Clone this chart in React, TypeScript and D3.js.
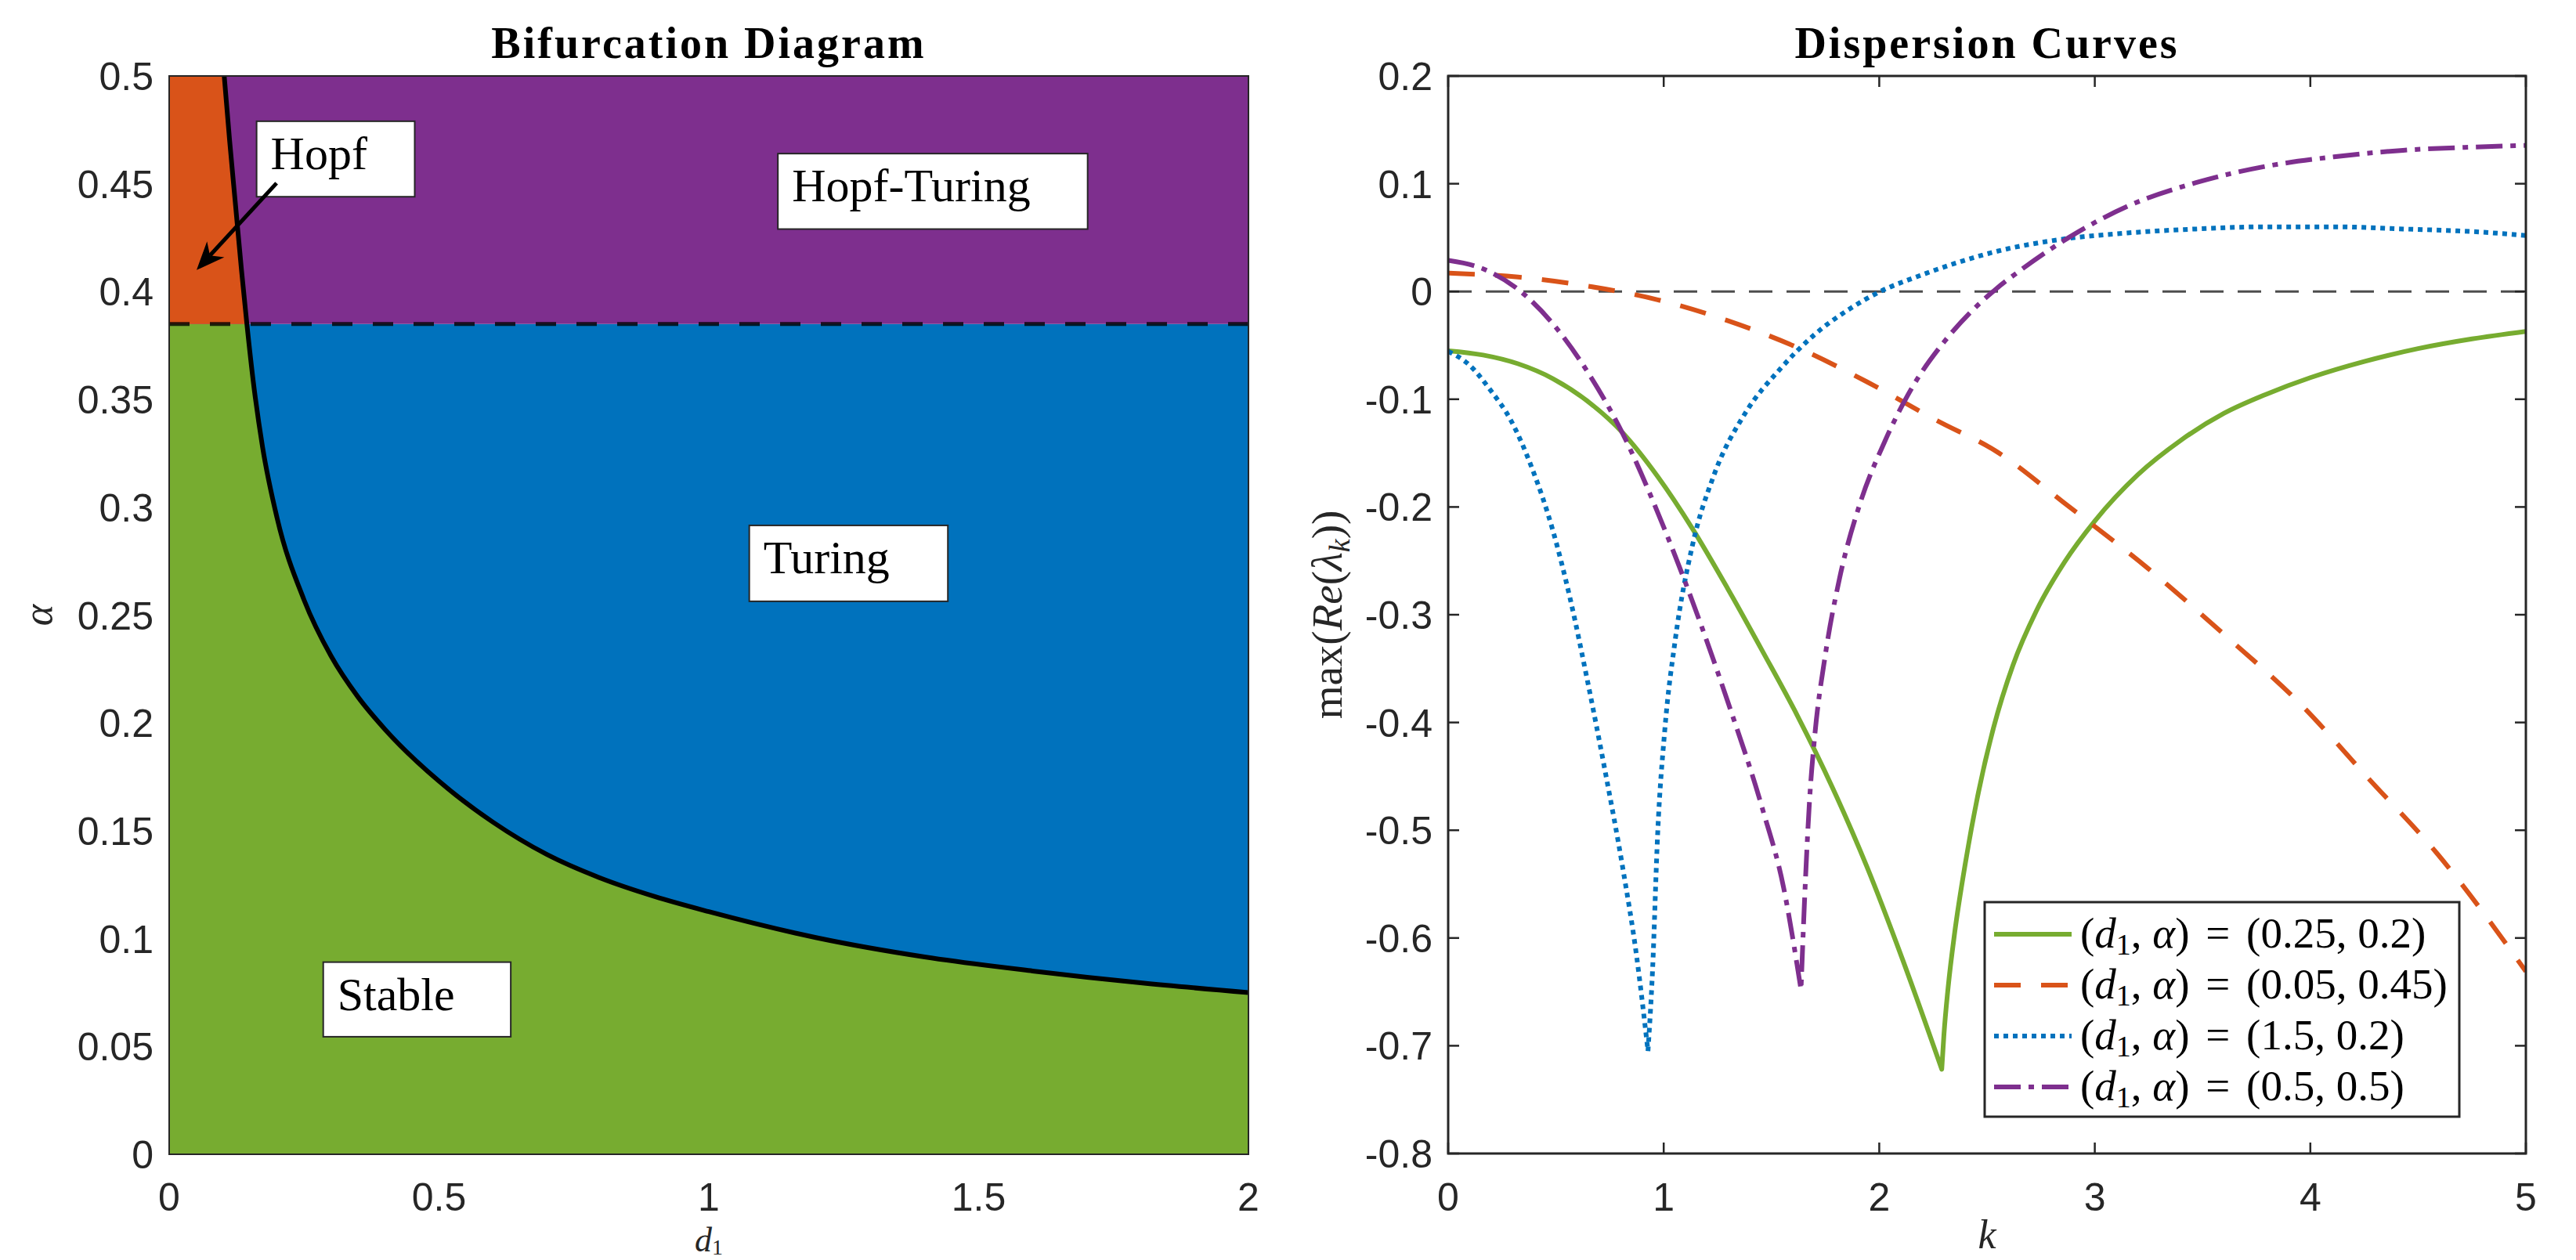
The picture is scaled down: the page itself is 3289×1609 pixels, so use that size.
import React from 'react';
import * as d3 from 'd3';

const WIDTH = 3289;
const HEIGHT = 1609;

// ---------------- Left panel: bifurcation diagram ----------------
const boundaryD1 = [0.102, 0.112, 0.123, 0.134, 0.144, 0.156, 0.173, 0.2, 0.25, 0.3, 0.35, 0.4, 0.5, 0.6, 0.7, 0.8, 0.9, 1.0, 1.2, 1.4, 1.6, 1.8, 2.0];
const boundaryAlpha = [0.5, 0.47, 0.44, 0.41, 0.385, 0.358, 0.328, 0.295, 0.257, 0.231, 0.212, 0.197, 0.173, 0.154, 0.139, 0.128, 0.1195, 0.1125, 0.1004, 0.0915, 0.085, 0.0795, 0.075];
const hopfAlpha = 0.385;
const leftXTicks = [0, 0.5, 1, 1.5, 2];
const leftXTickLabels = ['0', '0.5', '1', '1.5', '2'];
const leftYTicks = [0, 0.05, 0.1, 0.15, 0.2, 0.25, 0.3, 0.35, 0.4, 0.45, 0.5];
const leftYTickLabels = ['0', '0.05', '0.1', '0.15', '0.2', '0.25', '0.3', '0.35', '0.4', '0.45', '0.5'];

// region annotation boxes (data coordinates: left, right, top, bottom)
const regionNames = ['Hopf', 'Hopf-Turing', 'Turing', 'Stable'];
const regionBoxD1From = [0.162, 1.128, 1.075, 0.2855];
const regionBoxD1To = [0.455, 1.702, 1.443, 0.633];
const regionBoxAlphaTop = [0.479, 0.464, 0.2916, 0.0891];
const regionBoxAlphaBottom = [0.444, 0.429, 0.2564, 0.0545];
const arrowFrom = [0.199, 0.4503];
const arrowTo = [0.0508, 0.41];

// ---------------- Right panel: dispersion curves ----------------
const rightXTicks = [0, 1, 2, 3, 4, 5];
const rightYTicks = [0.2, 0.1, 0, -0.1, -0.2, -0.3, -0.4, -0.5, -0.6, -0.7, -0.8];
const rightYTickLabels = ['0.2', '0.1', '0', '-0.1', '-0.2', '-0.3', '-0.4', '-0.5', '-0.6', '-0.7', '-0.8'];

const kGreen = [0, 0.162, 0.324, 0.486, 0.648, 0.81, 0.972, 1.134, 1.296, 1.458, 1.62, 1.782, 1.944, 2.107, 2.29, 2.30, 2.32, 2.35, 2.4, 2.46, 2.53, 2.62, 2.73, 2.86, 3.0, 3.2, 3.4, 3.6, 3.8, 4.0, 4.25, 4.5, 4.75, 5.0];
const vGreen = [-0.055, -0.059, -0.0671, -0.0809, -0.102, -0.1312, -0.1717, -0.2203, -0.2754, -0.3337, -0.3936, -0.46, -0.5345, -0.6193, -0.7218, -0.69, -0.645, -0.595, -0.53, -0.465, -0.405, -0.347, -0.296, -0.251, -0.213, -0.17, -0.138, -0.113, -0.095, -0.08, -0.065, -0.053, -0.044, -0.037];

const kOrange = [0, 0.324, 0.648, 0.972, 1.296, 1.62, 1.944, 2.27, 2.54, 2.879, 3.247, 3.598, 3.95, 4.27, 4.59, 5.0];
const vOrange = [0.017, 0.0134, 0.005, -0.0077, -0.027, -0.052, -0.084, -0.12, -0.148, -0.1995, -0.257, -0.318, -0.382, -0.452, -0.522, -0.631];

const kBlue = [0, 0.097, 0.194, 0.292, 0.389, 0.486, 0.567, 0.648, 0.729, 0.81, 0.875, 0.927, 0.948, 0.972, 1.005, 1.053, 1.134, 1.232, 1.378, 1.54, 1.7, 1.864, 2.005, 2.188, 2.35, 2.54, 2.831, 3.151, 3.47, 3.79, 4.11, 4.43, 4.75, 5.0];
const vBlue = [-0.0556, -0.068, -0.091, -0.12, -0.164, -0.222, -0.286, -0.363, -0.446, -0.535, -0.618, -0.705, -0.631, -0.503, -0.407, -0.324, -0.235, -0.171, -0.113, -0.072, -0.04, -0.016, 0.0, 0.0147, 0.026, 0.037, 0.048, 0.0543, 0.058, 0.06, 0.06, 0.058, 0.0556, 0.052];

const kPurple = [0, 0.162, 0.324, 0.486, 0.648, 0.81, 0.972, 1.134, 1.296, 1.458, 1.556, 1.637, 1.653, 1.677, 1.7, 1.75, 1.815, 1.912, 2.026, 2.156, 2.3, 2.43, 2.54, 2.671, 2.879, 3.151, 3.47, 3.79, 4.11, 4.43, 4.75, 5.0];
const vPurple = [0.0288, 0.021, 0.002, -0.03, -0.075, -0.132, -0.205, -0.288, -0.38, -0.48, -0.553, -0.648, -0.567, -0.471, -0.414, -0.337, -0.267, -0.196, -0.139, -0.088, -0.047, -0.018, 0.002, 0.022, 0.05, 0.079, 0.101, 0.116, 0.125, 0.131, 0.134, 0.1355];

const legendD1 = ['0.25', '0.05', '1.5', '0.5'];
const legendAlpha = ['0.2', '0.45', '0.2', '0.5'];

const C_BLUE = '#0072BD';
const C_ORANGE = '#D95319';
const C_PURPLE = '#7E2F8E';
const C_GREEN = '#77AC30';
const C_AXIS = '#262626';

const SANS = '"Liberation Sans", Arial, Helvetica, sans-serif';
const SERIF = '"Liberation Serif", "Times New Roman", serif';

type Pt = [number, number];

function splitAtCusp(pts: Pt[]): [Pt[], Pt[]] {
  let mi = 0;
  pts.forEach((p, i) => { if (p[1] < pts[mi][1]) mi = i; });
  if (mi === 0 || mi === pts.length - 1) return [pts, []];
  return [pts.slice(0, mi + 1), pts.slice(mi)];
}

export default function App() {
  const L = { x0: 216, x1: 1594, y0: 97, y1: 1474 };
  const R = { x0: 1849, x1: 3225, y0: 97, y1: 1473 };

  const xL = d3.scaleLinear().domain([0, 2]).range([L.x0, L.x1]);
  const yL = d3.scaleLinear().domain([0, 0.5]).range([L.y1, L.y0]);
  const xR = d3.scaleLinear().domain([0, 5]).range([R.x0, R.x1]);
  const yR = d3.scaleLinear().domain([-0.8, 0.2]).range([R.y1, R.y0]);

  // boundary curve
  const boundaryPts: Pt[] = boundaryD1.map((d, i) => [d, boundaryAlpha[i]]);
  const bLine = d3.line<Pt>().x(d => xL(d[0])).y(d => yL(d[1])).curve(d3.curveMonotoneX);
  const boundaryPath = bLine(boundaryPts) as string;
  const leftRegion = boundaryPath + `L${xL(2)},${yL(0)}L${xL(0)},${yL(0)}L${xL(0)},${yL(0.5)}Z`;

  // dispersion curves
  const rLine = d3.line<Pt>().x(d => xR(d[0])).y(d => yR(d[1])).curve(d3.curveMonotoneX);
  const curvePath = (ks: number[], vs: number[]) => {
    const pts: Pt[] = ks.map((k, i) => [k, vs[i]]);
    const [a, b] = splitAtCusp(pts);
    let p = rLine(a) as string;
    if (b.length) p += (rLine(b) as string).replace(/^M/, 'L');
    return p;
  };
  const series = [
    { d: curvePath(kGreen, vGreen), color: C_GREEN, dash: undefined as string | undefined, w: 6 },
    { d: curvePath(kOrange, vOrange), color: C_ORANGE, dash: '34,26', w: 6 },
    { d: curvePath(kBlue, vBlue), color: C_BLUE, dash: '6,6', w: 6 },
    { d: curvePath(kPurple, vPurple), color: C_PURPLE, dash: '34,10,7,10', w: 6 },
  ];

  // arrow
  const ax0 = xL(arrowFrom[0]), ay0 = yL(arrowFrom[1]);
  const ax1 = xL(arrowTo[0]), ay1 = yL(arrowTo[1]);
  const ang = Math.atan2(ay1 - ay0, ax1 - ax0);
  const headLen = 36, headHalf = 15;
  const bx = ax1 - headLen * Math.cos(ang), by = ay1 - headLen * Math.sin(ang);
  const nx = -Math.sin(ang), ny = Math.cos(ang);
  const notchX = ax1 - headLen * 0.7 * Math.cos(ang), notchY = ay1 - headLen * 0.7 * Math.sin(ang);
  const headPts = `${ax1},${ay1} ${bx + nx * headHalf},${by + ny * headHalf} ${notchX},${notchY} ${bx - nx * headHalf},${by - ny * headHalf}`;

  const legendX0 = 2534, legendX1 = 3140, legendY0 = 1152, legendY1 = 1426;
  const legendRowY = (i: number) => 1193 + i * 65;

  return (
    <svg width={WIDTH} height={HEIGHT} viewBox={`0 0 ${WIDTH} ${HEIGHT}`}
      style={{ position: 'absolute', left: 0, top: 0, background: '#fff', display: 'block' }}>
      <defs>
        <clipPath id="clipUpper">
          <rect x={L.x0} y={yL(0.5)} width={L.x1 - L.x0} height={yL(hopfAlpha) - yL(0.5)} />
        </clipPath>
        <clipPath id="clipLower">
          <rect x={L.x0} y={yL(hopfAlpha)} width={L.x1 - L.x0} height={yL(0) - yL(hopfAlpha)} />
        </clipPath>
        <clipPath id="clipLeft">
          <rect x={L.x0} y={L.y0} width={L.x1 - L.x0} height={L.y1 - L.y0} />
        </clipPath>
        <clipPath id="clipRight">
          <rect x={R.x0} y={R.y0} width={R.x1 - R.x0} height={R.y1 - R.y0} />
        </clipPath>
      </defs>
      <rect x={0} y={0} width={WIDTH} height={HEIGHT} fill="#fff" />

      {/* ---------- Left panel ---------- */}
      <rect x={L.x0} y={yL(hopfAlpha)} width={L.x1 - L.x0} height={yL(0) - yL(hopfAlpha)} fill={C_BLUE} />
      <rect x={L.x0} y={yL(0.5)} width={L.x1 - L.x0} height={yL(hopfAlpha) - yL(0.5)} fill={C_PURPLE} />
      <path d={leftRegion} fill={C_GREEN} clipPath="url(#clipLower)" />
      <path d={leftRegion} fill={C_ORANGE} clipPath="url(#clipUpper)" />
      <g clipPath="url(#clipLeft)">
        <line x1={xL(0)} x2={xL(2)} y1={yL(hopfAlpha)} y2={yL(hopfAlpha)} stroke="#000" strokeOpacity={0.8}
          strokeWidth={5} strokeDasharray="26,26" />
        <path d={boundaryPath} fill="none" stroke="#000" strokeWidth={6} />
      </g>
      <rect x={L.x0} y={L.y0} width={L.x1 - L.x0} height={L.y1 - L.y0} fill="none" stroke={C_AXIS} strokeWidth={2} />

      {regionNames.map((name, i) => {
        const x0 = xL(regionBoxD1From[i]), x1 = xL(regionBoxD1To[i]);
        const y0 = yL(regionBoxAlphaTop[i]), y1 = yL(regionBoxAlphaBottom[i]);
        return (
          <g key={name}>
            <rect x={x0} y={y0} width={x1 - x0} height={y1 - y0} fill="#fff" stroke={C_AXIS} strokeWidth={2} />
            <text x={x0 + 18} y={y0 + 61} fontFamily={SERIF} fontSize={60} fill="#000">{name}</text>
          </g>
        );
      })}
      <line x1={ax0} y1={ay0} x2={notchX} y2={notchY} stroke="#000" strokeWidth={5} />
      <polygon points={headPts} fill="#000" />

      {leftXTicks.map((t, i) => (
        <text key={'lx' + i} x={xL(t)} y={1546} textAnchor="middle" fontFamily={SANS} fontSize={50} fill={C_AXIS}>{leftXTickLabels[i]}</text>
      ))}
      {leftYTicks.map((t, i) => (
        <text key={'ly' + i} x={L.x0 - 20} y={yL(t) + 18} textAnchor="end" fontFamily={SANS} fontSize={50} fill={C_AXIS}>{leftYTickLabels[i]}</text>
      ))}
      <text x={(L.x0 + L.x1) / 2} y={74} textAnchor="middle" fontFamily={SERIF} fontWeight="bold" fontSize={56} letterSpacing={3} fill="#000">Bifurcation Diagram</text>
      <text x={(L.x0 + L.x1) / 2} y={1598} textAnchor="middle" fontFamily={SERIF} fontStyle="italic" fontSize={44} fill={C_AXIS}>
        d<tspan fontStyle="normal" fontSize={28} dy={4}>1</tspan>
      </text>
      <text transform={`translate(66,${(L.y0 + L.y1) / 2}) rotate(-90)`} textAnchor="middle" fontFamily={SERIF} fontStyle="italic" fontSize={52} fill={C_AXIS}>α</text>

      {/* ---------- Right panel ---------- */}
      <g clipPath="url(#clipRight)">
        <line x1={xR(0)} x2={xR(5)} y1={yR(0)} y2={yR(0)} stroke="#4D4D4D" strokeWidth={3} strokeDasharray="30,18" />
        {series.map((s, i) => (
          <path key={'s' + i} d={s.d} fill="none" stroke={s.color} strokeWidth={s.w}
            strokeDasharray={s.dash} strokeLinejoin="round" />
        ))}
      </g>
      {rightXTicks.map((t, i) => (
        <g key={'rxt' + i}>
          <line x1={xR(t)} x2={xR(t)} y1={R.y1} y2={R.y1 - 14} stroke={C_AXIS} strokeWidth={2.5} />
          <line x1={xR(t)} x2={xR(t)} y1={R.y0} y2={R.y0 + 14} stroke={C_AXIS} strokeWidth={2.5} />
          <text x={xR(t)} y={1546} textAnchor="middle" fontFamily={SANS} fontSize={50} fill={C_AXIS}>{String(t)}</text>
        </g>
      ))}
      {rightYTicks.map((t, i) => (
        <g key={'ryt' + i}>
          <line x1={R.x0} x2={R.x0 + 14} y1={yR(t)} y2={yR(t)} stroke={C_AXIS} strokeWidth={2.5} />
          <line x1={R.x1} x2={R.x1 - 14} y1={yR(t)} y2={yR(t)} stroke={C_AXIS} strokeWidth={2.5} />
          <text x={R.x0 - 20} y={yR(t) + 18} textAnchor="end" fontFamily={SANS} fontSize={50} fill={C_AXIS}>{rightYTickLabels[i]}</text>
        </g>
      ))}
      <rect x={R.x0} y={R.y0} width={R.x1 - R.x0} height={R.y1 - R.y0} fill="none" stroke={C_AXIS} strokeWidth={3} />

      <text x={(R.x0 + R.x1) / 2} y={74} textAnchor="middle" fontFamily={SERIF} fontWeight="bold" fontSize={56} letterSpacing={3} fill="#000">Dispersion Curves</text>
      <text x={(R.x0 + R.x1) / 2} y={1594} textAnchor="middle" fontFamily={SERIF} fontStyle="italic" fontSize={52} fill={C_AXIS}>k</text>
      <text transform={`translate(1713,${(R.y0 + R.y1) / 2}) rotate(-90)`} textAnchor="middle" fontFamily={SERIF} fontSize={55} fill={C_AXIS}>
        max(<tspan fontStyle="italic">Re</tspan>(<tspan fontStyle="italic">λ</tspan><tspan fontStyle="italic" fontSize={38} dy={10}>k</tspan><tspan dy={-10}>))</tspan>
      </text>

      {/* legend */}
      <rect x={legendX0} y={legendY0} width={legendX1 - legendX0} height={legendY1 - legendY0} fill="#fff" stroke={C_AXIS} strokeWidth={3} />
      {series.map((s, i) => (
        <g key={'lg' + i}>
          <line x1={2546} x2={2645} y1={legendRowY(i)} y2={legendRowY(i)} stroke={s.color} strokeWidth={s.w} strokeDasharray={s.dash} />
          <text x={2656} y={legendRowY(i) + 17} fontFamily={SERIF} fontSize={55} fill="#000">
            (<tspan fontStyle="italic">d</tspan><tspan fontSize={38} dy={9}>1</tspan><tspan dy={-9}>, </tspan><tspan fontStyle="italic">α</tspan>)<tspan dx={7}> = </tspan><tspan dx={7}>({legendD1[i]}, {legendAlpha[i]})</tspan>
          </text>
        </g>
      ))}
    </svg>
  );
}
